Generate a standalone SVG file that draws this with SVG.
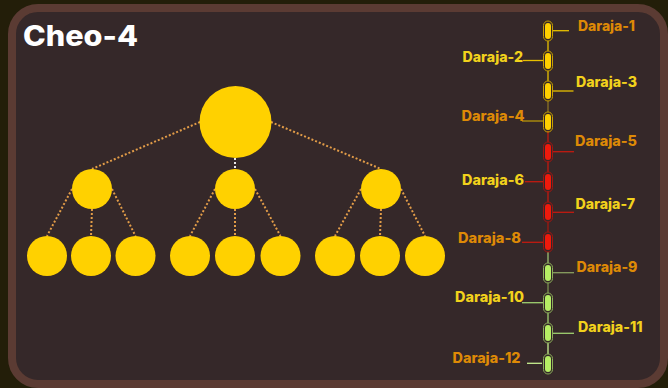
<svg xmlns="http://www.w3.org/2000/svg" width="668" height="388" viewBox="0 0 668 388">
<style>
.node{fill:#ffd100}
.dot{stroke:#e29c48;stroke-width:2;stroke-dasharray:2 2;fill:none}
.lbl{font-family:Inter,"Open Sans","Liberation Sans",sans-serif;font-weight:800;font-size:14px}
.o{fill:#de8a06}
.y{fill:#f2d21c}
.cap-o{fill:none;stroke-width:1}
.ln{stroke-width:1.3;fill:none}
</style>
<rect x="0" y="0" width="668" height="388" fill="#231e09"/>
<rect x="12" y="8" width="652" height="376" rx="26" fill="#352829" stroke="#5b3b33" stroke-width="8"/>
<text x="23" y="46" font-family="Inter,'Open Sans','Liberation Sans',sans-serif" font-weight="800" font-size="28" fill="#ffffff" textLength="115" lengthAdjust="spacingAndGlyphs">Cheo-4</text>

<g id="tree-connectors">
<line class="dot" x1="200" y1="122" x2="92" y2="169"/>
<line class="dot" x1="271" y1="122" x2="381" y2="169"/>
<line x1="235" y1="158" x2="235" y2="169" stroke="#e8e8e8" stroke-width="2" stroke-dasharray="2 2"/>
<line class="dot" x1="72" y1="189" x2="47" y2="236"/>
<line class="dot" x1="92" y1="209" x2="91" y2="236"/>
<line class="dot" x1="112" y1="189" x2="135.5" y2="236"/>
<line class="dot" x1="215" y1="189" x2="190" y2="236"/>
<line class="dot" x1="235" y1="209" x2="235" y2="236"/>
<line class="dot" x1="255" y1="189" x2="280.5" y2="236"/>
<line class="dot" x1="361" y1="189" x2="335" y2="236"/>
<line class="dot" x1="381" y1="209" x2="380" y2="236"/>
<line class="dot" x1="401" y1="189" x2="425" y2="236"/>
</g>

<g id="root"><circle class="node" cx="235.5" cy="122" r="36"/></g>
<g id="mid-1"><circle class="node" cx="92" cy="189" r="20"/></g>
<g id="mid-2"><circle class="node" cx="235" cy="189" r="20"/></g>
<g id="mid-3"><circle class="node" cx="381" cy="189" r="20"/></g>
<g id="leaf-1"><circle class="node" cx="47" cy="256" r="20"/></g>
<g id="leaf-2"><circle class="node" cx="91" cy="256" r="20"/></g>
<g id="leaf-3"><circle class="node" cx="135.5" cy="256" r="20"/></g>
<g id="leaf-4"><circle class="node" cx="190" cy="256" r="20"/></g>
<g id="leaf-5"><circle class="node" cx="235" cy="256" r="20"/></g>
<g id="leaf-6"><circle class="node" cx="280.5" cy="256" r="20"/></g>
<g id="leaf-7"><circle class="node" cx="335" cy="256" r="20"/></g>
<g id="leaf-8"><circle class="node" cx="380" cy="256" r="20"/></g>
<g id="leaf-9"><circle class="node" cx="425" cy="256" r="20"/></g>

<g id="chain-connectors">
<line class="ln" x1="548" y1="41" x2="548" y2="51" stroke="#e8c000"/>
<line class="ln" x1="548" y1="71" x2="548" y2="81" stroke="#e8c000"/>
<line class="ln" x1="548" y1="101" x2="548" y2="112" stroke="#8a7224"/>
<line class="ln" x1="548" y1="131" x2="548" y2="142" stroke="#c21a10"/>
<line class="ln" x1="548" y1="161" x2="548" y2="172" stroke="#c21a10"/>
<line class="ln" x1="548" y1="191" x2="548" y2="202" stroke="#c21a10"/>
<line class="ln" x1="548" y1="222" x2="548" y2="232" stroke="#a01810"/>
<line class="ln" x1="548" y1="252" x2="548" y2="263" stroke="#9cc070"/>
<line class="ln" x1="548" y1="283" x2="548" y2="293" stroke="#7a9050"/>
<line class="ln" x1="548" y1="313" x2="548" y2="323" stroke="#a0d070"/>
<line class="ln" x1="548" y1="343" x2="548" y2="354" stroke="#c8f090"/>

<line class="ln" x1="552.5" y1="30.7" x2="569" y2="30.7" stroke="#e8c000"/>
<line class="ln" x1="523" y1="60.5" x2="544" y2="60.5" stroke="#e8c000"/>
<line class="ln" x1="552.5" y1="91" x2="573.5" y2="91" stroke="#e8c000"/>
<line class="ln" x1="522" y1="121" x2="544" y2="121" stroke="#b8960a"/>
<line class="ln" x1="552.5" y1="151.7" x2="574" y2="151.7" stroke="#c21a10"/>
<line class="ln" x1="525" y1="181.7" x2="544" y2="181.7" stroke="#c21a10"/>
<line class="ln" x1="552.5" y1="212.3" x2="574" y2="212.3" stroke="#c21a10"/>
<line class="ln" x1="522" y1="242.3" x2="544" y2="242.3" stroke="#c21a10"/>
<line class="ln" x1="552.5" y1="272.7" x2="574" y2="272.7" stroke="#8aa060"/>
<line class="ln" x1="522" y1="302.7" x2="544" y2="302.7" stroke="#a0d070"/>
<line class="ln" x1="552.5" y1="333.3" x2="574" y2="333.3" stroke="#a0d070"/>
<line class="ln" x1="527" y1="363.3" x2="542" y2="363.3" stroke="#c8f090"/>
</g>

<g id="daraja-1"><rect x="543.5" y="21" width="9" height="20" rx="4.5" class="cap-o" stroke="#c8a000"/><rect x="545" y="23" width="6" height="16" rx="3" fill="#ffd000"/><text class="lbl o" x="578" y="31" textLength="57" lengthAdjust="spacingAndGlyphs">Daraja-1</text></g>
<g id="daraja-2"><rect x="543.5" y="51" width="9" height="20" rx="4.5" class="cap-o" stroke="#c8a000"/><rect x="545" y="53" width="6" height="16" rx="3" fill="#ffd000"/><text class="lbl y" x="462.5" y="62" textLength="60.5" lengthAdjust="spacingAndGlyphs">Daraja-2</text></g>
<g id="daraja-3"><rect x="543.5" y="81" width="9" height="20" rx="4.5" class="cap-o" stroke="#c8a000"/><rect x="545" y="83" width="6" height="16" rx="3" fill="#ffd000"/><text class="lbl y" x="576" y="87" textLength="61" lengthAdjust="spacingAndGlyphs">Daraja-3</text></g>
<g id="daraja-4"><rect x="543.5" y="112" width="9" height="20" rx="4.5" class="cap-o" stroke="#c8a000"/><rect x="545" y="114" width="6" height="16" rx="3" fill="#ffd000"/><text class="lbl o" x="461.5" y="121" textLength="63" lengthAdjust="spacingAndGlyphs">Daraja-4</text></g>
<g id="daraja-5"><rect x="543.5" y="142" width="9" height="20" rx="4.5" class="cap-o" stroke="#a31410"/><rect x="545" y="144" width="6" height="16" rx="3" fill="#ee1a0c"/><text class="lbl o" x="575" y="146" textLength="62" lengthAdjust="spacingAndGlyphs">Daraja-5</text></g>
<g id="daraja-6"><rect x="543.5" y="172" width="9" height="20" rx="4.5" class="cap-o" stroke="#a31410"/><rect x="545" y="174" width="6" height="16" rx="3" fill="#ee1a0c"/><text class="lbl y" x="462" y="185" textLength="62" lengthAdjust="spacingAndGlyphs">Daraja-6</text></g>
<g id="daraja-7"><rect x="543.5" y="202" width="9" height="20" rx="4.5" class="cap-o" stroke="#a31410"/><rect x="545" y="204" width="6" height="16" rx="3" fill="#ee1a0c"/><text class="lbl y" x="575.5" y="209" textLength="59.5" lengthAdjust="spacingAndGlyphs">Daraja-7</text></g>
<g id="daraja-8"><rect x="543.5" y="232" width="9" height="20" rx="4.5" class="cap-o" stroke="#a31410"/><rect x="545" y="234" width="6" height="16" rx="3" fill="#ee1a0c"/><text class="lbl o" x="458" y="243" textLength="63" lengthAdjust="spacingAndGlyphs">Daraja-8</text></g>
<g id="daraja-9"><rect x="543.5" y="263" width="9" height="20" rx="4.5" class="cap-o" stroke="#8cae5a"/><rect x="545" y="265" width="6" height="16" rx="3" fill="#b6ee64"/><text class="lbl o" x="576.5" y="272" textLength="61" lengthAdjust="spacingAndGlyphs">Daraja-9</text></g>
<g id="daraja-10"><rect x="543.5" y="293" width="9" height="20" rx="4.5" class="cap-o" stroke="#8cae5a"/><rect x="545" y="295" width="6" height="16" rx="3" fill="#b6ee64"/><text class="lbl y" x="455" y="302" textLength="69" lengthAdjust="spacingAndGlyphs">Daraja-10</text></g>
<g id="daraja-11"><rect x="543.5" y="323" width="9" height="20" rx="4.5" class="cap-o" stroke="#8cae5a"/><rect x="545" y="325" width="6" height="16" rx="3" fill="#b6ee64"/><text class="lbl y" x="578" y="332" textLength="64.5" lengthAdjust="spacingAndGlyphs">Daraja-11</text></g>
<g id="daraja-12"><rect x="543.5" y="354" width="9" height="20" rx="4.5" class="cap-o" stroke="#8cae5a"/><rect x="545" y="356" width="6" height="16" rx="3" fill="#b6ee64"/><text class="lbl o" x="452.5" y="363" textLength="68" lengthAdjust="spacingAndGlyphs">Daraja-12</text></g>
</svg>
